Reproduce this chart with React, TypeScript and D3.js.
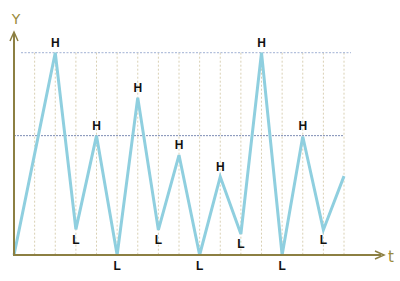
import React from "react";
import * as d3 from "d3";

// Time steps and the zig-zag value at each one
const steps = [0, 1, 2, 3, 4, 5, 6, 7, 8, 9, 10, 11, 12, 13, 14, 15, 16];
const values = [0, 5, 10, 1.27, 5.9, 0, 7.78, 1.24, 4.94, 0, 3.87, 1.04, 10, 0, 5.86, 1.24, 3.9];
// Turning-point labels: H for highs, L for lows, empty otherwise
const marks = ["", "", "H", "L", "H", "L", "H", "L", "H", "L", "H", "L", "H", "L", "H", "L", ""];
const gridSteps = [1, 2, 3, 4, 5, 6, 7, 8, 9, 10, 11, 12, 13, 14, 15, 16];
const refLevels = [10, 5.9];

export default function App() {
  const W = 400;
  const H = 281;
  const x0 = 14;
  const y0 = 255;
  const x = d3.scaleLinear().domain([0, 16]).range([x0, 344]);
  const y = d3.scaleLinear().domain([0, 10]).range([y0, 52.7]);
  const pts: [number, number][] = steps.map((s, i) => [s, values[i]]);
  const line = d3
    .line<[number, number]>()
    .x((d) => x(d[0]))
    .y((d) => y(d[1]));
  const axisColor = "#8c7f42";
  const font = "'DejaVu Sans', Verdana, sans-serif";
  const labelFont = "'Liberation Sans', Arial, sans-serif";

  return (
    <svg
      width={W}
      height={H}
      style={{ position: "absolute", left: 0, top: 0, background: "#fff" }}
    >
      {gridSteps.map((s) => (
        <line
          key={s}
          x1={x(s)}
          x2={x(s)}
          y1={y(10)}
          y2={y0}
          stroke="#d9d0b4"
          strokeWidth={1}
          strokeDasharray="2,2"
        />
      ))}
      <line
        x1={21}
        x2={351}
        y1={y(refLevels[0])}
        y2={y(refLevels[0])}
        stroke="#b3c0dc"
        strokeWidth={1.2}
        strokeDasharray="2,1.5"
      />
      <line
        x1={x0}
        x2={344}
        y1={y(refLevels[1])}
        y2={y(refLevels[1])}
        stroke="#7d8cb4"
        strokeWidth={1}
        strokeDasharray="2,1"
      />
      <path
        d={line(pts) ?? ""}
        fill="none"
        stroke="#8fcfdf"
        strokeWidth={3}
        strokeLinejoin="miter"
      />
      {/* axes with arrow heads */}
      <line x1={x0} x2={x0} y1={y0 + 1} y2={34} stroke={axisColor} strokeWidth={2} />
      <path d={`M${x0 - 4},${41} L${x0},${32} L${x0 + 4},${41}`} fill="none" stroke={axisColor} strokeWidth={1.5} />
      <line x1={x0 - 1} x2={381} y1={y0} y2={y0} stroke={axisColor} strokeWidth={2} />
      <path d={`M${375},${y0 - 4} L${384},${y0} L${375},${y0 + 4}`} fill="none" stroke={axisColor} strokeWidth={1.5} />
      <text x={16} y={24} textAnchor="middle" fontFamily={font} fontSize={14} fill="#9a8b3c">
        Y
      </text>
      <text x={391} y={262} textAnchor="middle" fontFamily={font} fontSize={15} fill="#9a8b3c">
        t
      </text>
      {marks.map((m, i) =>
        m ? (
          <text
            key={i}
            x={x(steps[i])}
            y={m === "H" ? y(values[i]) - 6 : y(values[i]) + 14.5}
            textAnchor="middle"
            fontFamily={labelFont}
            fontSize={12}
            fontWeight="bold"
            fill="#111"
          >
            {m}
          </text>
        ) : null
      )}
    </svg>
  );
}
